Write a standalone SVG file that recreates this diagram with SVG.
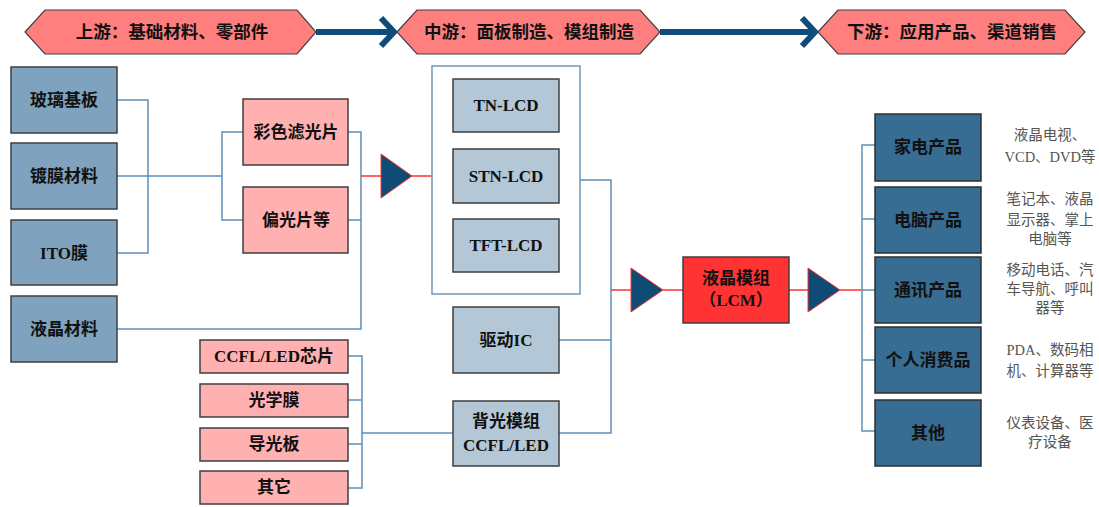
<svg xmlns="http://www.w3.org/2000/svg" width="1099" height="507" viewBox="0 0 1099 507">
<style>
.hdr{fill:#ff7f7f;stroke:#404040;stroke-width:1.2}
.ht{font-family:"Noto Sans CJK SC","Liberation Sans",sans-serif;font-weight:bold;font-size:17.5px;fill:#111;text-anchor:middle}
.b1{fill:#7fa3bf;stroke:#3f3f3f;stroke-width:1.5}
.b2{fill:#b3c7d6;stroke:#3f3f3f;stroke-width:1.5}
.b3{fill:#376c93;stroke:#2f2f2f;stroke-width:1.5}
.pk{fill:#ffb0b0;stroke:#3f3f3f;stroke-width:1.5}
.lcm{fill:#ff3333;stroke:#3f3f3f;stroke-width:1.5}
.t{font-family:"Liberation Serif","Noto Sans CJK SC",serif;font-weight:bold;font-size:17px;fill:#111;text-anchor:middle}
.d{font-family:"Liberation Serif","Noto Sans CJK SC",serif;font-size:14.5px;fill:#555;text-anchor:middle}
.c{fill:none;stroke:#5f8fb8;stroke-width:1.5}
.r{fill:none;stroke:#ff3030;stroke-width:1.5}
.tri{fill:#0f4c75;stroke:#ff3030;stroke-width:1}
.fa{fill:none;stroke:#0f4c7a;stroke-width:6}
</style>
<rect width="1099" height="507" fill="#ffffff"/>
<g id="connectors">
<line class="fa" x1="316" y1="32" x2="392" y2="32"/>
<polyline class="fa" points="381,18 394,32 381,46"/>
<line class="fa" x1="660" y1="32" x2="813" y2="32"/>
<polyline class="fa" points="802,18 815,32 802,46"/>
<path class="c" d="M117,100 H148 V253 H117 M117,176 H222 M243,132 H222 V220 H243"/>
<path class="c" d="M348,132 H361 V329 H117 M348,220 H361"/>
<path class="r" d="M361,176 H381 M412,176 H432"/>
<path class="c" d="M580,180 H611 V433 H559 M559,340 H611"/>
<path class="c" d="M348,356 H362 V488 H348 M348,400 H362 M348,444 H362 M362,433 H453"/>
<path class="r" d="M611,290 H631 M663,290 H683 M789,290 H808 M840,290 H862"/>
<path class="c" d="M875,145 H862 V431 H875 M862,219 H875 M862,290 H875 M862,360 H875"/>
<polygon class="tri" points="381,154 412,176 381,198"/>
<polygon class="tri" points="631,268 663,290 631,312"/>
<polygon class="tri" points="808,268 840,290 808,312"/>
</g>
<g id="hdr-up"><polygon class="hdr" points="25,32 45,10 297,10 316,32 297,54 45,54"/><text class="ht" x="172" y="38">上游：基础材料、零部件</text></g>
<g id="hdr-mid"><polygon class="hdr" points="397,32 417,10 640,10 660,32 640,54 417,54"/><text class="ht" x="529" y="38">中游：面板制造、模组制造</text></g>
<g id="hdr-down"><polygon class="hdr" points="818,32 838,10 1065,10 1085,32 1065,54 838,54"/><text class="ht" x="952" y="38">下游：应用产品、渠道销售</text></g>
<g id="n-glass"><rect class="b1" x="11" y="67" width="106" height="66"/><text class="t" x="64" y="106">玻璃基板</text></g>
<g id="n-coat"><rect class="b1" x="11" y="143" width="106" height="66"/><text class="t" x="64" y="182">镀膜材料</text></g>
<g id="n-ito"><rect class="b1" x="11" y="220" width="106" height="65"/><text class="t" x="64" y="259">ITO膜</text></g>
<g id="n-lc"><rect class="b1" x="11" y="296" width="106" height="66"/><text class="t" x="64" y="335">液晶材料</text></g>
<g id="n-cf"><rect class="pk" x="243" y="99" width="105" height="66"/><text class="t" x="296" y="138">彩色滤光片</text></g>
<g id="n-pol"><rect class="pk" x="243" y="187" width="105" height="66"/><text class="t" x="296" y="226">偏光片等</text></g>
<g id="n-chip"><rect class="pk" x="200" y="340" width="148" height="33"/><text class="t" x="274" y="362">CCFL/LED芯片</text></g>
<g id="n-film"><rect class="pk" x="200" y="384" width="148" height="33"/><text class="t" x="274" y="406">光学膜</text></g>
<g id="n-lgp"><rect class="pk" x="200" y="428" width="148" height="33"/><text class="t" x="274" y="450">导光板</text></g>
<g id="n-other1"><rect class="pk" x="200" y="471" width="148" height="33"/><text class="t" x="274" y="493">其它</text></g>
<g id="n-frame"><rect x="432" y="66" width="148" height="228" fill="#ffffff" stroke="#6f97b8" stroke-width="1.5"/></g>
<g id="n-tn"><rect class="b2" x="453" y="79" width="106" height="53"/><text class="t" x="506" y="111">TN-LCD</text></g>
<g id="n-stn"><rect class="b2" x="453" y="149" width="106" height="54"/><text class="t" x="506" y="182">STN-LCD</text></g>
<g id="n-tft"><rect class="b2" x="453" y="219" width="106" height="53"/><text class="t" x="506" y="251">TFT-LCD</text></g>
<g id="n-ic"><rect class="b2" x="453" y="307" width="106" height="66"/><text class="t" x="506" y="346">驱动IC</text></g>
<g id="n-bl"><rect class="b2" x="453" y="401" width="106" height="65"/><text class="t" x="506" y="427">背光模组</text><text class="t" x="506" y="451">CCFL/LED</text></g>
<g id="n-lcm"><rect class="lcm" x="683" y="257" width="106" height="66"/><text class="t" x="736" y="284">液晶模组</text><text class="t" x="736" y="306">（LCM）</text></g>
<g id="n-home"><rect class="b3" x="875" y="114" width="106" height="67"/><text class="t" x="928" y="153">家电产品</text></g>
<g id="n-pc"><rect class="b3" x="875" y="187" width="106" height="66"/><text class="t" x="928" y="226">电脑产品</text></g>
<g id="n-comm"><rect class="b3" x="875" y="257" width="106" height="66"/><text class="t" x="928" y="296">通讯产品</text></g>
<g id="n-cons"><rect class="b3" x="875" y="327" width="106" height="66"/><text class="t" x="928" y="366">个人消费品</text></g>
<g id="n-other2"><rect class="b3" x="875" y="400" width="106" height="66"/><text class="t" x="928" y="439">其他</text></g>
<g id="desc">
<text class="d" x="1050" y="140">液晶电视、</text>
<text class="d" x="1050" y="162">VCD、DVD等</text>
<text class="d" x="1050" y="204">笔记本、液晶</text>
<text class="d" x="1050" y="225">显示器、掌上</text>
<text class="d" x="1050" y="244">电脑等</text>
<text class="d" x="1050" y="275">移动电话、汽</text>
<text class="d" x="1050" y="294">车导航、呼叫</text>
<text class="d" x="1050" y="313">器等</text>
<text class="d" x="1050" y="355">PDA、数码相</text>
<text class="d" x="1050" y="376">机、计算器等</text>
<text class="d" x="1050" y="428">仪表设备、医</text>
<text class="d" x="1050" y="447">疗设备</text>
</g>
</svg>
